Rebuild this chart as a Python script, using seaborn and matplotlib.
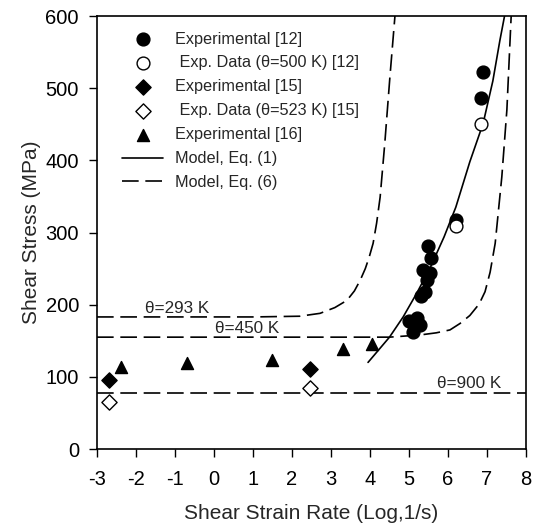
import numpy as np
import pandas as pd
import matplotlib
matplotlib.use("Agg")
import matplotlib.pyplot as plt
import seaborn as sns

exp12_x = [5.0, 5.1, 5.2, 5.28, 5.31, 5.35, 5.4, 5.45, 5.49, 5.55, 5.56, 6.2, 6.85, 6.9]
exp12_y = [178, 162, 182, 172, 212, 248, 217, 234, 282, 244, 264, 318, 486, 523]
exp12_hot_x = [6.2, 6.85]
exp12_hot_y = [309, 450]
exp15_x = [-2.7, 2.46]
exp15_y = [96, 111]
exp15_hot_x = [-2.7, 2.46]
exp15_hot_y = [65, 85]
exp16_x = [-2.38, -0.69, 1.49, 3.31, 4.05]
exp16_y = [113, 119, 123, 138, 145]

# Modellkurven
eq1_x = [3.95, 4.5, 4.85, 5.2, 5.55, 5.9, 6.2, 6.56, 6.9, 7.15, 7.33, 7.45]
eq1_y = [120, 155, 183, 216, 252, 294, 335, 398, 451, 510, 566, 600]
t293_x = [-3.0, 1.0, 2.2, 2.72, 3.1, 3.41, 3.6, 3.75, 3.88, 3.98, 4.08, 4.17, 4.26, 4.38, 4.51, 4.64]
t293_y = [183, 183, 184, 188, 196, 206, 219, 234, 250, 266, 285, 313, 349, 424, 515, 600]
t450_x = [-3.0, 4.5, 5.28, 5.7, 6.05, 6.31, 6.56, 6.8, 6.95, 7.08, 7.21, 7.38, 7.51, 7.62]
t450_y = [155, 155, 158, 161, 165, 174, 185, 201, 218, 245, 285, 377, 470, 600]
t900_x = [-3.0, 8.0]
t900_y = [78, 78]

x_ticks = list(range(-3, 9))
y_ticks = list(range(0, 601, 100))

sns.set_style("ticks")
plt.rcParams['font.family'] = ['Liberation Sans', 'DejaVu Sans']
plt.rcParams['axes.unicode_minus'] = False

fig = plt.figure(figsize=(5.37, 5.27), dpi=100)
ax = fig.add_axes([0.1806, 0.148, 0.7989, 0.8216])

dash = (0, (10, 4))

# Modell Eq. (6) fuer drei Temperaturen
for xs, ys in [(t293_x, t293_y), (t450_x, t450_y), (t900_x, t900_y)]:
    sns.lineplot(x=xs, y=ys, color='black', lw=1.2, linestyle=dash, ax=ax)
h6 = ax.lines[-1]
sns.lineplot(x=eq1_x, y=eq1_y, color='black', lw=1.2, ax=ax)
h1 = ax.lines[-1]

sc1 = ax.scatter(exp12_x, exp12_y, s=85, marker='o', color='black', zorder=3)
sc2 = ax.scatter(exp12_hot_x, exp12_hot_y, s=85, marker='o', facecolor='white', edgecolor='black', lw=1, zorder=3)
sc3 = ax.scatter(exp15_x, exp15_y, s=60, marker='D', color='black', zorder=3)
sc4 = ax.scatter(exp15_hot_x, exp15_hot_y, s=60, marker='D', facecolor='white', edgecolor='black', lw=1, zorder=3)
sc5 = ax.scatter(exp16_x, exp16_y, s=75, marker='^', color='black', zorder=3)

ax.text(-0.95, 185, "θ=293 K", ha='center', va='bottom', fontsize=12.3)
ax.text(0.85, 157, "θ=450 K", ha='center', va='bottom', fontsize=12.3)
ax.text(6.55, 80, "θ=900 K", ha='center', va='bottom', fontsize=12.3)

ax.legend([sc1, sc2, sc3, sc4, sc5, h1, h6],
          ["Experimental [12]", " Exp. Data (θ=500 K) [12]", "Experimental [15]",
           " Exp. Data (θ=523 K) [15]", "Experimental [16]", "Model, Eq. (1)", "Model, Eq. (6)"],
          loc='upper left', bbox_to_anchor=(0.025, 0.998), frameon=False, fontsize=11.7,
          handlelength=2.5, labelspacing=0.55, handletextpad=0.75)

ax.set_xlim(-3, 8)
ax.set_ylim(0, 600)
ax.set_xticks(x_ticks)
ax.set_yticks(y_ticks)
ax.tick_params(direction='out', length=6, width=1, labelsize=14.5, colors='black')
ax.tick_params(axis='x', pad=9)
ax.tick_params(axis='y', pad=7)
for sp in ax.spines.values():
    sp.set_linewidth(1.2)
    sp.set_color('black')
ax.set_xlabel("Shear Strain Rate (Log,1/s)", fontsize=15, labelpad=11)
ax.set_ylabel("Shear Stress (MPa)", fontsize=15, labelpad=3)

fig.savefig("out.png", dpi=100)
